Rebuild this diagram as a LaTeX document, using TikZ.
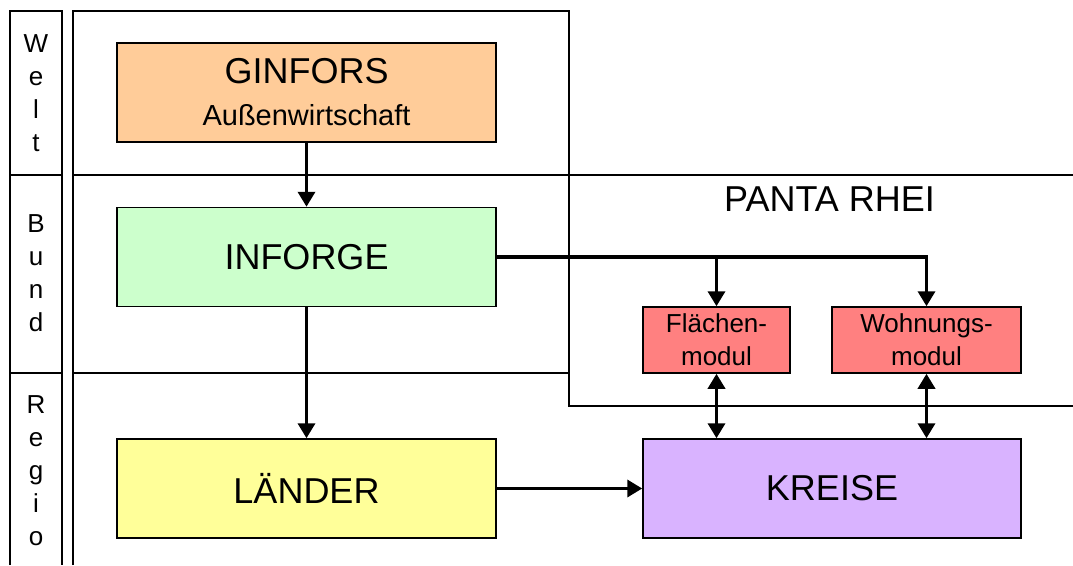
\documentclass[tikz,border=0pt]{standalone}
\usepackage{fontspec}
\setmainfont{Liberation Sans}
\usetikzlibrary{arrows.meta}
\definecolor{weltcol}{HTML}{FFCC99}
\definecolor{bundcol}{HTML}{CCFFCC}
\definecolor{landcol}{HTML}{FFFF99}
\definecolor{kreiscol}{HTML}{D9B3FF}
\definecolor{modulcol}{HTML}{FF8080}

\begin{document}
\begin{tikzpicture}[x=1pt,y=-1pt,
  frame/.style={line width=1.7pt},
  box/.style={draw,line width=1.5pt,minimum width=379pt,minimum height=99pt,inner sep=0pt,align=center,font=\fontsize{36}{42}\selectfont},
  modul/.style={draw,line width=1.5pt,minimum height=66pt,inner sep=0pt,align=center,fill=modulcol,font=\fontsize{26}{33}\selectfont},
  level/.style={align=center,inner sep=0pt,font=\fontsize{26}{33}\selectfont},
  arr/.style={line width=3.5pt,-{Triangle[length=15pt,width=17pt]}},
  darr/.style={line width=3.5pt,{Triangle[length=15pt,width=17pt]}-{Triangle[length=15pt,width=17pt]}}]
\useasboundingbox (0,0) rectangle (1073,565);

% ebenen
\draw[frame] (10,565) -- (10,11) -- (62,11) -- (62,565);
\draw[frame] (10,175) -- (62,175) (10,373) -- (62,373);
\draw[frame] (73,565) -- (73,11) -- (569,11) -- (569,406) -- (1073,406);
\draw[frame] (73,175) -- (1073,175) (73,373) -- (569,373);

\node(welt) at (36,93)[level]    {W\\e\\l\\t};
\node(bund) at (36,273)[level]   {B\\u\\n\\d};
\node(regio) at (36,471)[level]  {R\\e\\g\\i\\o};
\node(panta) at (829.5,199.5)[font=\fontsize{36}{42}\selectfont,inner sep=0pt] {PANTA RHEI};

% modelle
\node(ginfors) at (306.5,92.5)[box,fill=weltcol]  {GINFORS\\{\fontsize{29}{42}\selectfont Außenwirtschaft}};
\node(inforge) at (306.5,257)[box,fill=bundcol]   {INFORGE};
\node(laender) at (306.5,488.5)[box,fill=landcol] {LÄNDER};
\node(kreise) at (832,488.5)[box,minimum width=378pt,fill=kreiscol] {KREISE};
\node(flaeche) at (716.5,340)[modul,minimum width=147pt] {Flächen-\\modul};
\node(wohnung) at (926.5,340)[modul,minimum width=189pt] {Wohnungs-\\modul};

\path [arr]
  (ginfors)   edge   (inforge)
  (inforge)   edge   (laender)
  (laender)   edge   (kreise);
\draw[arr] (inforge.east) -| (wohnung.north);
\draw[arr] (inforge.east -| flaeche.north) -- (flaeche.north);
\draw[darr] (flaeche.south) -- (flaeche.south |- kreise.north);
\draw[darr] (wohnung.south) -- (wohnung.south |- kreise.north);

\end{tikzpicture}
\end{document}
